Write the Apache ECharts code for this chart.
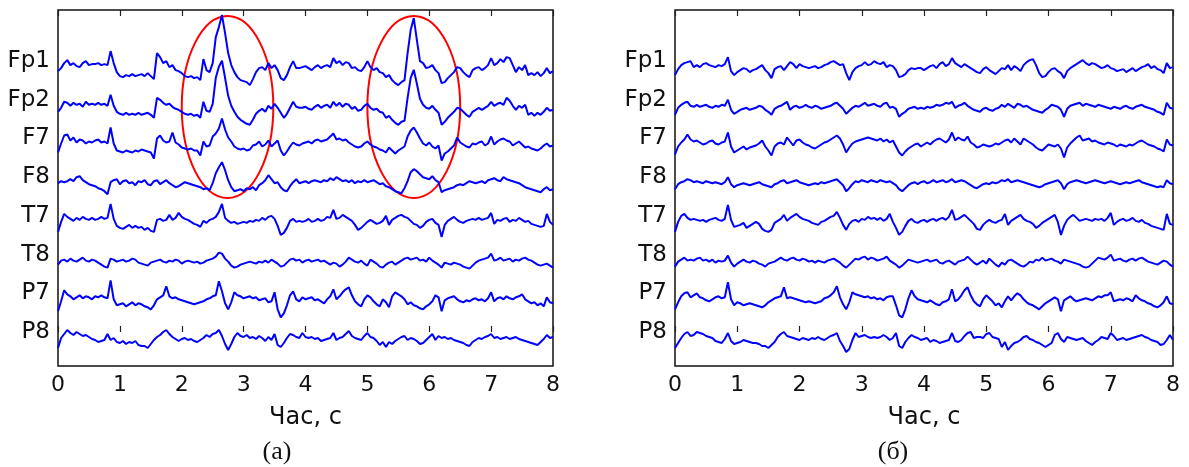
<!DOCTYPE html>
<html>
<head>
<meta charset="utf-8">
<script src="https://cdn.jsdelivr.net/npm/echarts@6/dist/echarts.min.js"></script>
<style>
html,body{margin:0;padding:0;background:#fff;}
#chart{width:1189px;height:467px;}
</style>
</head>
<body>
<div id="chart"></div>
<script>
// ---- data (amplitudes, arbitrary units; sample step 0.05 s, 0..8 s) ----
const SAMPLE_STEP = 0.05;
const channels = ['Fp1','Fp2','F7','F8','T7','T8','P7','P8'];
const channelSpacing = 38.7;
const xTicks = [0,1,2,3,4,5,6,7,8];
const xName = 'Час, с';
const captions = ['(а)', '(б)'];
// ellipse annotations on panel (а): [centre time, centre level, half-width (s), half-height]
const ellipseMarks = [[2.74, 225, 0.74, 91], [5.75, 225, 0.75, 91]];

// Panel (а): raw EEG
const a_Fp1 = [-10,-7,-2,1,-4,-2,-5,-6,-2,0,-4,-3,-3,-2,-4,-3,-4,10,-2,-11,
-15,-16,-14,-15,-13,-15,-14,-13,-15,-12,-15,-18,8,4,-2,0,-6,-4,-9,-10,
-12,-15,-16,-15,-17,-16,-19,2,-9,-11,-2,24,34,46,28,8,-4,-11,-16,-19,
-20,-21,-24,-18,-11,-7,-6,-9,-2,-7,-4,-9,-17,-19,-14,-6,0,-7,-7,-6,
-5,-7,-9,-6,-4,-7,-5,-4,-6,3,-2,0,-4,-1,-2,-7,-6,-9,-10,-6,
0,-6,-9,-7,-11,-12,-16,-14,-19,-22,-24,-21,-19,8,31,43,21,0,-2,-7,
-6,-4,-9,-12,-22,-21,-17,-14,-11,-6,-7,-11,-14,-16,-9,-7,-6,-9,-7,-4,
3,-4,-2,2,-1,4,3,-4,-11,-6,-9,-4,-14,-12,-14,-11,-15,-12,-7,-12,
-10];
const a_Fp2 = [-12,-8,-2,-3,-6,-3,-5,-4,-7,-2,-5,-4,-5,-3,-5,-4,-6,5,-6,-12,
-14,-15,-13,-15,-14,-15,-13,-15,-14,-13,-15,-18,2,0,-3,-5,-4,-7,-9,-10,
-12,-14,-15,-14,-16,-15,-18,-2,-11,-12,-4,22,33,39,22,4,-6,-12,-17,-20,
-22,-24,-25,-20,-14,-11,-9,-12,-6,-9,-4,-8,-13,-18,-14,-8,-2,-7,-8,-8,
-7,-9,-10,-7,-5,-8,-6,-5,-8,-2,-6,-3,-7,-4,-5,-9,-7,-11,-10,-6,
-4,-8,-10,-9,-12,-13,-18,-16,-20,-23,-25,-22,-21,2,22,30,16,1,-5,-8,
-9,-6,-10,-13,-25,-22,-18,-15,-12,-8,-9,-12,-15,-17,-12,-10,-8,-10,-8,-6,
-2,-6,-4,-3,-5,2,-1,-6,-10,-6,-8,-5,-15,-13,-16,-13,-15,-12,-8,-11,
-10];
const a_F7 = [-14,-5,3,4,-2,1,-4,-1,-2,-5,-3,-4,-2,-1,-4,-3,-5,11,-5,-12,
-13,-14,-12,-13,-14,-12,-13,-11,-12,-13,-14,-20,0,3,-2,-4,-3,6,-4,-6,
-9,-10,-11,-10,-12,-12,-17,-3,-8,-7,2,5,10,20,9,1,-3,-8,-10,-11,
-10,-12,-11,-7,-6,-3,-8,-6,-2,-8,-5,-2,-12,-17,-13,-8,-4,-6,-7,-5,
-4,-3,-5,-2,-1,-3,-2,-1,2,5,-1,0,-2,-1,-4,-6,-8,-9,-8,-5,
-3,-6,-8,-9,-11,-12,-14,-9,-12,-15,-12,-10,-8,2,8,11,6,0,-5,-7,
-4,-8,-10,-7,-22,-15,-13,-10,-7,1,-4,-6,-8,-9,-5,-6,-4,-3,-7,-5,
2,-6,-3,-1,0,-2,-3,-7,-5,-3,-6,-9,-8,-10,-11,-12,-10,-7,-5,-8,
-7];
const a_F8 = [-6,-4,-5,-4,-2,-4,0,1,-3,-5,-7,-8,-9,-11,-12,-14,-17,-5,-3,-2,
-7,-4,-3,-6,-5,-8,-4,-5,-3,-7,-8,-4,-3,-7,-5,-3,-6,-8,-10,-9,
-7,-5,-6,-7,-8,-9,-10,-12,-11,-13,-6,4,10,15,7,-3,-10,-14,-13,-12,
-14,-11,-12,-10,-13,-8,-6,-3,2,-2,-6,-5,-10,-13,-14,-9,-5,-2,-6,-5,
-4,-6,-4,-3,-4,-5,-3,-4,-1,-3,0,-2,-4,-3,-5,-3,-6,-4,-5,-3,
-5,-4,-3,-5,-7,-6,-9,-10,-12,-14,-15,-16,-11,-4,5,8,6,3,0,-1,
-2,1,-3,-5,-15,-13,-12,-11,-10,-8,-7,-8,-6,-4,-5,-6,-5,-4,-6,-3,
-2,-1,-3,-4,0,-2,-3,-4,-5,-6,-8,-10,-11,-12,-13,-14,-15,-12,-10,-13,
-12];
const a_T7 = [-16,-6,2,-1,-3,-5,-2,-4,-1,-3,-4,-2,-4,-3,-1,-3,-2,12,-3,-10,
-12,-13,-11,-9,-12,-10,-12,-11,-14,-12,-15,-16,-4,-3,-5,-4,1,-4,-2,3,
-1,-3,-4,-6,-8,-9,-11,-5,-7,-4,-3,-1,4,12,-2,-5,-7,-6,-8,-7,
-6,-7,-5,-6,-4,-5,-2,-4,-1,0,-3,-10,-19,-17,-12,-5,-3,-6,-5,-6,
-5,-3,-6,-5,-3,-5,-4,-1,-2,6,-3,-2,1,-1,-3,-5,-9,-14,-12,-9,
-6,-4,-6,-8,-7,-5,0,-9,-4,-2,0,1,-1,-2,-5,-8,-9,-12,-10,-6,
-4,-3,-7,-9,-21,-9,-5,-3,-1,-4,-6,-7,-5,-4,-3,-4,-2,-4,-3,-2,
3,-8,-4,-5,-3,-2,-6,-4,-5,-2,-4,-6,-5,-8,-9,-10,-11,-10,2,-6,
-9];
const a_T8 = [-10,-6,-5,-7,-4,-6,-7,-5,-3,-6,-7,-5,-6,-8,-10,-12,-13,-4,-5,-7,
-6,-5,-7,-6,-4,-5,-8,-9,-10,-11,-8,-7,-6,-5,-7,-8,-6,-7,-5,-6,
-9,-7,-6,-7,-8,-7,-9,-8,-6,-5,-4,-2,2,1,-4,-7,-11,-13,-12,-10,
-9,-8,-7,-8,-9,-7,-8,-6,-8,-5,-7,-9,-12,-11,-8,-5,-4,-6,-5,-8,
-6,-5,-7,-6,-5,-7,-6,-8,-10,-8,-9,-12,-10,-7,-3,-5,-7,-8,-6,-9,
-11,-5,-7,-9,-12,-13,-10,-8,-7,-10,-8,-6,-4,-3,-5,-4,-3,-6,-5,-7,
-3,-6,-8,-10,-13,-8,-9,-10,-8,-9,-10,-12,-13,-14,-11,-8,-6,-5,-4,-3,
1,-6,-5,-3,-6,-5,-4,-7,-5,-6,-4,-3,-5,-6,-8,-10,-11,-10,-9,-11,
-13];
const a_P7 = [-18,-8,3,-1,-3,-6,-4,-2,-5,-3,-4,-6,-3,-4,-2,-4,-5,13,-6,-12,
-11,-10,-13,-11,-9,-12,-10,-11,-13,-14,-16,-12,-6,-4,-2,7,-3,-5,-4,-6,
-7,-8,-9,-10,-11,-10,-9,-8,-6,-5,-3,-2,12,2,-10,-16,-9,1,-2,-3,
-5,-4,-3,-5,-4,-7,-6,-5,-9,-8,1,-16,-24,-20,-12,-2,2,-6,-8,-4,
-6,-5,-4,-7,-6,-8,-10,-6,-3,4,-6,-3,1,4,6,-2,-8,-11,-13,-6,
-2,-4,-8,-11,-13,-6,-9,-14,-3,1,-1,-3,-6,-11,-9,-12,-13,-15,-16,-13,
-11,-8,-2,-4,-18,-7,-5,-4,-3,-6,-8,-9,-7,-8,-6,-5,-7,-6,-8,-5,
1,-8,-5,-4,-6,-3,-5,-6,-4,-3,-1,-6,-8,-10,-9,-12,-10,-13,-4,-9,
-10];
const a_P8 = [-16,-6,-2,2,-1,-3,0,-2,-4,-3,-5,-7,-8,-10,-9,-8,-2,-8,-6,-10,
-11,-9,-12,-10,-11,-9,-13,-14,-14,-16,-12,-8,-5,-3,0,2,-2,-5,-7,-9,
-7,-6,-8,-7,-9,-10,-8,-6,-3,-5,-2,-1,2,-4,-12,-18,-12,-5,-1,-4,
-5,-3,-6,-5,-7,-4,-6,-9,-5,-8,-2,-13,-15,-11,-6,-2,-3,-5,-6,-1,
-5,-6,-5,-7,-6,-9,-8,-7,-6,-1,-8,-6,-5,-2,1,-4,-6,-7,-8,-4,
-1,-5,-6,-9,-13,-10,-15,-10,-12,-9,-7,-5,-4,-8,-6,-7,-9,-12,-11,-8,
-5,-2,-8,-4,-6,-5,-7,-6,-8,-9,-10,-11,-13,-14,-10,-8,-6,-7,-5,-4,
-2,-6,-5,-7,-6,-5,-7,-6,-5,-7,-8,-9,-10,-11,-12,-13,-10,-7,-3,-6,
-5];

// Panel (б): cleaned EEG
const b_Fp1 = [-14,-8,-4,-2,-1,0,-6,-4,-6,-3,-2,-4,-5,-6,-4,-5,-3,4,-10,-14,
-11,-9,-7,-8,-11,-9,-8,-6,-4,-9,-12,-17,-8,-6,-5,-9,-5,-1,-3,-7,
-3,-5,-6,-7,-6,-5,-7,-6,-4,-3,-1,0,-2,-4,-3,-12,-19,-11,-7,-5,
-4,-1,-4,-3,0,-2,-3,-1,-6,-4,-5,-9,-16,-15,-13,-9,-7,-8,-7,-7,
-9,-7,-5,-4,-7,-3,-1,-5,-3,3,-2,-4,-6,-3,-5,-7,-9,-11,-12,-8,
-6,-9,-11,-13,-10,-7,-8,-4,-9,-5,-7,-10,-4,-1,1,2,-4,-12,-16,-15,
-11,-8,-7,-10,-12,-17,-10,-7,-5,-3,-1,1,-2,-4,-2,-3,-5,-7,-6,-4,
-7,-8,-10,-9,-8,-11,-9,-7,-10,-8,-6,-5,-3,-7,-5,-8,-9,-12,-2,-7,
-6];
const b_Fp2 = [-15,-8,-5,-3,-2,-6,-7,-5,-7,-6,-5,-7,-8,-6,-7,-5,-6,0,-10,-14,
-12,-10,-9,-8,-10,-9,-8,-6,-7,-10,-12,-15,-9,-7,-6,-4,-2,-10,-7,-6,
-8,-7,-5,-7,-8,-6,-7,-9,-8,-7,-6,-4,-3,-6,-9,-14,-11,-8,-6,-7,
-5,-3,-6,-5,-4,-6,-7,-4,-3,-8,-7,-9,-17,-14,-12,-9,-8,-7,-9,-8,
-9,-7,-8,-7,-5,-6,-5,-3,-4,-2,-8,-6,-5,-3,-6,-8,-10,-11,-12,-9,
-8,-10,-11,-9,-8,-5,-7,-4,-6,-8,-4,-5,-7,-6,-8,-10,-11,-12,-13,-10,
-8,-5,-6,-7,-10,-17,-9,-6,-5,-4,-3,-6,-4,-5,-6,-7,-5,-6,-7,-8,
-9,-7,-8,-9,-7,-6,-8,-9,-7,-6,-5,-7,-8,-9,-10,-12,-13,-15,-3,-8,
-9];
const b_F7 = [-16,-8,-4,-1,4,-1,-3,-2,-4,-6,-5,-3,-2,-5,-6,-4,-3,6,-8,-14,
-12,-10,-8,-11,-9,-8,-7,-5,-2,-8,-12,-17,-8,-5,-4,-6,1,-3,-7,-2,
-1,-4,-6,-7,-9,-10,-8,-6,-4,-3,-1,1,3,0,-6,-14,-9,-5,-3,-2,
-1,0,1,0,-1,-2,0,-3,-1,-4,-2,-8,-14,-17,-13,-10,-8,-6,-5,-8,
-6,-4,-6,-3,-1,0,-2,-4,-1,6,-2,1,-1,-2,2,-4,-6,-9,-8,-6,
-7,-8,-7,-5,-6,-4,-2,-1,-4,0,-3,-6,0,-2,-4,-6,-9,-11,-12,-9,
-6,-7,-8,-6,-10,-19,-9,-5,-2,1,3,-2,-1,0,-3,-2,-4,-5,-6,-4,
-5,-6,-8,-6,-7,-8,-6,-7,-5,-3,-2,-4,-6,-7,-8,-10,-11,-13,-1,-6,
-7];
const b_F8 = [-12,-7,-5,-4,-2,-3,-5,-4,-5,-6,-4,-5,-6,-5,-6,-7,-5,0,-7,-10,
-8,-7,-6,-7,-8,-7,-6,-5,-7,-8,-9,-10,-7,-6,-4,-3,-6,-5,-4,-3,
-5,-6,-7,-8,-7,-6,-7,-5,-6,-5,-4,-3,-2,-5,-8,-14,-11,-7,-4,-5,
-3,-4,-5,-3,-4,-5,-3,-4,-5,-4,-6,-8,-12,-14,-11,-8,-6,-5,-7,-5,
-4,-6,-5,-3,-5,-4,-3,-5,-4,-2,-5,-4,-3,-4,-6,-8,-10,-11,-9,-7,
-6,-7,-5,-6,-5,-3,-4,-2,-5,-4,-3,-4,-5,-6,-7,-8,-9,-10,-9,-7,
-6,-5,-4,-3,-6,-12,-7,-5,-4,-3,-4,-5,-6,-5,-4,-3,-4,-5,-6,-5,
-4,-5,-6,-7,-6,-5,-6,-5,-4,-3,-5,-6,-7,-8,-9,-10,-9,-10,-3,-6,
-7];
const b_T7 = [-16,-6,0,2,-2,-4,-3,-4,-5,-4,-6,-4,-3,-2,-4,-5,-3,11,-4,-11,
-10,-9,-7,-12,-10,-8,-6,-8,-13,-15,-16,-14,-7,-5,-3,1,-5,-2,0,2,
-1,-3,-4,-5,-7,-8,-9,-6,-5,-3,-1,0,4,-2,-9,-14,-8,-5,-4,-6,
-3,-4,-1,-3,-2,-4,-2,-5,-3,2,-6,-12,-19,-16,-10,-5,-3,-6,-7,-5,
-4,-6,-4,-3,-5,-3,-2,-4,-1,6,-4,-3,-1,1,-2,-5,-8,-13,-14,-9,
-6,-4,-6,-7,-5,-4,2,-9,-5,-3,-1,1,-3,-5,-6,-8,-12,-10,-7,-5,
-3,-1,1,-6,-19,-10,-4,-1,1,-2,-5,-4,-3,-4,-5,-3,-4,-3,-5,-2,
3,-9,-6,-4,-3,-5,-4,-2,-5,-6,-4,-7,-8,-10,-11,-12,-13,-14,2,-8,
-9];
const b_T8 = [-12,-7,-5,-3,-6,-5,-6,-4,-3,-6,-5,-7,-5,-8,-6,-7,-6,-1,-8,-12,
-9,-7,-5,-7,-8,-6,-7,-9,-10,-12,-9,-8,-7,-5,-3,-5,-6,-4,-3,-5,
-6,-4,-5,-7,-6,-8,-6,-7,-8,-6,-5,-4,-6,-8,-11,-13,-10,-7,-4,-5,
-3,-2,-5,-3,-4,-6,-5,-4,-2,-6,-8,-10,-13,-11,-8,-5,-6,-7,-8,-7,
-6,-5,-7,-6,-5,-8,-9,-7,-6,-8,-10,-7,-6,-5,-2,-5,-8,-10,-8,-6,
-9,-4,-7,-10,-12,-8,-10,-6,-5,-7,-9,-11,-12,-10,-7,-8,-5,-6,-3,-6,
-5,-4,-6,-7,-9,-5,-6,-7,-8,-9,-10,-12,-13,-12,-9,-6,-3,-4,-5,-3,
0,-6,-5,-4,-6,-7,-5,-4,-6,-4,-3,-5,-7,-8,-9,-10,-8,-6,-7,-10,
-12];
const b_P7 = [-16,-9,-3,0,1,-4,-2,0,-4,-5,-7,-8,-6,-4,-3,-5,-4,11,-6,-12,
-9,-10,-12,-11,-10,-11,-12,-13,-14,-12,-9,-7,-5,-4,-3,6,-5,-4,-5,-6,
-7,-8,-9,-8,-9,-10,-9,-8,-5,-4,-2,1,7,-4,-11,-16,-9,1,-1,-2,
-3,-4,-3,-5,-4,-6,-5,-7,-4,-3,-3,-12,-22,-24,-16,-5,3,-3,-6,-7,
-8,-9,-7,-9,-11,-12,-9,-8,-6,4,-8,-6,-2,3,6,-2,-8,-11,-13,-6,
-2,-5,-8,-12,-10,-14,-8,-3,-7,-3,0,-2,-6,-9,-11,-12,-14,-16,-13,-10,
-8,-6,-4,-6,-18,-7,-5,-3,-6,-8,-7,-6,-5,-6,-7,-5,-3,-4,-2,-2,
1,-8,-7,-6,-7,-5,-6,-8,-2,-5,-7,-8,-10,-11,-13,-14,-12,-9,-3,-10,
-11];
const b_P8 = [-16,-11,-6,-2,0,-4,-3,0,-1,-2,-4,-5,-6,-9,-10,-11,-7,-1,-9,-12,
-11,-10,-8,-9,-10,-11,-11,-12,-14,-14,-16,-13,-10,-5,-2,0,-4,-5,-6,-7,
-8,-6,-7,-8,-6,-7,-5,-7,-8,-6,-4,-3,-1,-9,-14,-20,-17,-8,-1,-5,
-4,-3,-5,-6,-5,-6,-5,-3,-5,-8,-6,-1,-14,-16,-10,-6,-3,-5,-6,-8,
-7,-6,-10,-8,-9,-11,-10,-9,-8,-1,-9,-10,-8,-4,-1,0,-6,-5,-5,-6,
-2,-1,-5,-6,-7,-15,-10,-18,-14,-11,-10,-8,-5,-4,-7,-8,-10,-11,-13,-15,
-13,-11,-3,-1,-7,-10,-5,-6,-7,-8,-7,-6,-9,-11,-13,-10,-8,-5,-6,-7,
-1,-4,-8,-7,-6,-8,-7,-6,-5,-4,-3,-5,-6,-8,-9,-10,-13,-12,-8,-3,
-8];

const panelA = [a_Fp1, a_Fp2, a_F7, a_F8, a_T7, a_T8, a_P7, a_P8];
const panelB = [b_Fp1, b_Fp2, b_F7, b_F8, b_T7, b_T8, b_P7, b_P8];

// ---- build chart ----
const offsets = channels.map((c, i) => (channels.length - 1 - i) * channelSpacing);
const FONT = 'DejaVu Sans';
const TXT = '#111';

function xAxes(gridIndex) {
  const base = {
    type: 'value', gridIndex, min: 0, max: 8, interval: 1,
    axisLine: { show: false },
    splitLine: { show: false },
    axisTick: { inside: true, length: 6, lineStyle: { color: '#222', width: 1.2 } }
  };
  return [
    Object.assign({}, base, {
      position: 'bottom',
      axisLabel: { fontFamily: FONT, fontSize: 22, color: TXT, margin: 8,
        formatter: v => String(xTicks[Math.round(v)]) },
      name: xName, nameLocation: 'middle', nameGap: 40,
      nameTextStyle: { fontFamily: FONT, fontSize: 24, color: TXT }
    }),
    Object.assign({}, base, { position: 'top', axisLabel: { show: false } })
  ];
}
function yAxis(gridIndex) {
  return {
    type: 'value', gridIndex, min: -34, max: 322,
    axisLine: { show: false }, axisTick: { show: false }, splitLine: { show: false },
    axisLabel: {
      customValues: offsets,
      fontFamily: FONT, fontSize: 23, color: TXT, margin: 8,
      formatter: v => {
        const i = offsets.findIndex(o => Math.abs(o - v) < 0.01);
        return i >= 0 ? channels[i] : '';
      }
    }
  };
}

const series = [];
[panelA, panelB].forEach((panel, p) => {
  panel.forEach((vals, ci) => {
    series.push({
      type: 'line', xAxisIndex: p * 2, yAxisIndex: p, name: channels[ci],
      showSymbol: false, symbol: 'none', silent: true,
      lineStyle: { color: '#0000ff', width: 2 },
      data: vals.map((v, i) => [i * SAMPLE_STEP, offsets[ci] + v]),
      animation: false
    });
  });
});
series.push({
  type: 'custom', xAxisIndex: 0, yAxisIndex: 0, silent: true, animation: false,
  data: ellipseMarks,
  renderItem: (params, api) => {
    const c = api.coord([api.value(0), api.value(1)]);
    const s = api.size([api.value(2), api.value(3)]);
    return { type: 'ellipse', shape: { cx: c[0], cy: c[1], rx: s[0], ry: s[1] },
      style: { fill: 'none', stroke: '#ff0000', lineWidth: 2 } };
  }
});

const chart = echarts.init(document.getElementById('chart'), null, { renderer: 'canvas' });
chart.setOption({
  backgroundColor: '#fff',
  animation: false,
  grid: [
    { left: 58, top: 10, width: 495, height: 356, show: true, borderColor: '#111', borderWidth: 1.5, backgroundColor: 'transparent' },
    { left: 675, top: 10, width: 498, height: 356, show: true, borderColor: '#111', borderWidth: 1.5, backgroundColor: 'transparent' }
  ],
  xAxis: xAxes(0).concat(xAxes(1)),
  yAxis: [yAxis(0), yAxis(1)],
  series,
  graphic: [
    { type: 'text', x: 277, y: 452, style: { text: captions[0], font: '26px "Liberation Serif"', fill: TXT, textAlign: 'center', textVerticalAlign: 'middle' } },
    { type: 'text', x: 893, y: 452, style: { text: captions[1], font: '26px "Liberation Serif"', fill: TXT, textAlign: 'center', textVerticalAlign: 'middle' } }
  ]
});
</script>
</body>
</html>
